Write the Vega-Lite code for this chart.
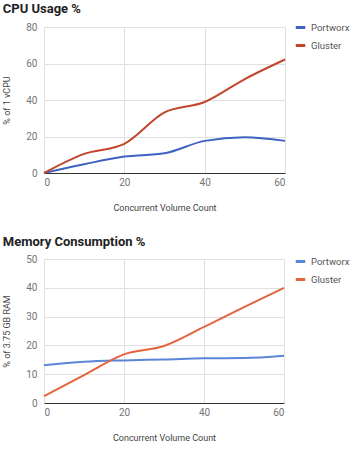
{
  "$schema": "https://vega.github.io/schema/vega-lite/v6.json",
  "padding": {"left": 2, "top": 3, "right": 0, "bottom": 0},
  "background": "white",
  "config": {
    "font": "Roboto",
    "view": {"stroke": null},
    "title": {"font": "Roboto", "fontSize": 13, "fontWeight": "bold", "color": "#222", "anchor": "start", "frame": "bounds", "offset": 5},
    "axis": {"labelFont": "Roboto", "titleFont": "Roboto", "labelColor": "#757575", "titleColor": "#444", "labelFontSize": 10, "titleFontSize": 9, "titleFontWeight": "normal", "gridColor": "#e0e0e0", "ticks": false, "domain": false},
    "legend": {"labelFont": "Roboto", "labelFontSize": 9.5, "labelColor": "#555", "symbolType": "stroke", "symbolStrokeWidth": 3, "symbolSize": 90, "labelOffset": 4, "rowPadding": 5, "title": null, "labelLimit": 60}
  },
  "vconcat": [
    {
      "title": "CPU Usage %",
      "width": 241,
      "height": 146,
      "data": {"values": [
        {"x": 0, "y": 0, "s": "Portworx"},
        {"x": 10, "y": 4.8, "s": "Portworx"},
        {"x": 20, "y": 9, "s": "Portworx"},
        {"x": 30, "y": 10.8, "s": "Portworx"},
        {"x": 40, "y": 17.6, "s": "Portworx"},
        {"x": 50, "y": 19.6, "s": "Portworx"},
        {"x": 60, "y": 17.6, "s": "Portworx"},
        {"x": 0, "y": 0, "s": "Gluster"},
        {"x": 10, "y": 10.5, "s": "Gluster"},
        {"x": 20, "y": 16, "s": "Gluster"},
        {"x": 30, "y": 33.2, "s": "Gluster"},
        {"x": 40, "y": 38.9, "s": "Gluster"},
        {"x": 50, "y": 51.5, "s": "Gluster"},
        {"x": 60, "y": 62.2, "s": "Gluster"}
      ]},
      "mark": {"type": "line", "interpolate": "monotone", "strokeWidth": 2},
      "encoding": {
        "x": {"field": "x", "type": "quantitative", "scale": {"domain": [0, 60], "nice": false}, "axis": {"values": [0, 20, 40, 60], "title": "Concurrent Volume Count", "titlePadding": 16, "labelPadding": 4, "domain": true, "domainColor": "#333"}},
        "y": {"field": "y", "type": "quantitative", "scale": {"domain": [0, 80], "nice": false}, "axis": {"values": [0, 20, 40, 60, 80], "title": "% of 1 vCPU", "titlePadding": 14, "labelPadding": 7}},
        "color": {"field": "s", "type": "nominal", "sort": ["Portworx", "Gluster"], "scale": {"domain": ["Portworx", "Gluster"], "range": ["#3d63be", "#c1462c"]}, "legend": {"orient": "none", "legendX": 250, "legendY": -6}}
      }
    },
    {
      "title": "Memory Consumption %",
      "width": 240,
      "height": 144,
      "data": {"values": [
        {"x": 0, "y": 13.1, "s": "Portworx"},
        {"x": 10, "y": 14.3, "s": "Portworx"},
        {"x": 20, "y": 14.8, "s": "Portworx"},
        {"x": 30, "y": 15.1, "s": "Portworx"},
        {"x": 40, "y": 15.5, "s": "Portworx"},
        {"x": 50, "y": 15.6, "s": "Portworx"},
        {"x": 60, "y": 16.4, "s": "Portworx"},
        {"x": 0, "y": 2.4, "s": "Gluster"},
        {"x": 10, "y": 9.7, "s": "Gluster"},
        {"x": 20, "y": 16.9, "s": "Gluster"},
        {"x": 30, "y": 19.8, "s": "Gluster"},
        {"x": 40, "y": 26.4, "s": "Gluster"},
        {"x": 50, "y": 33.3, "s": "Gluster"},
        {"x": 60, "y": 40, "s": "Gluster"}
      ]},
      "mark": {"type": "line", "interpolate": "monotone", "strokeWidth": 2},
      "encoding": {
        "x": {"field": "x", "type": "quantitative", "scale": {"domain": [0, 60], "nice": false}, "axis": {"values": [0, 20, 40, 60], "title": "Concurrent Volume Count", "titlePadding": 16, "labelPadding": 4, "domain": true, "domainColor": "#333"}},
        "y": {"field": "y", "type": "quantitative", "scale": {"domain": [0, 50], "nice": false}, "axis": {"values": [0, 10, 20, 30, 40, 50], "title": "% of 3.75 GB RAM", "titlePadding": 14, "labelPadding": 7}},
        "color": {"field": "s", "type": "nominal", "sort": ["Portworx", "Gluster"], "scale": {"domain": ["Portworx", "Gluster"], "range": ["#5b85d7", "#e4643d"]}, "legend": {"orient": "none", "legendX": 250, "legendY": -4}}
      }
    }
  ],
  "resolve": {"scale": {"color": "independent"}, "legend": {"color": "independent"}},
  "spacing": 24
}
